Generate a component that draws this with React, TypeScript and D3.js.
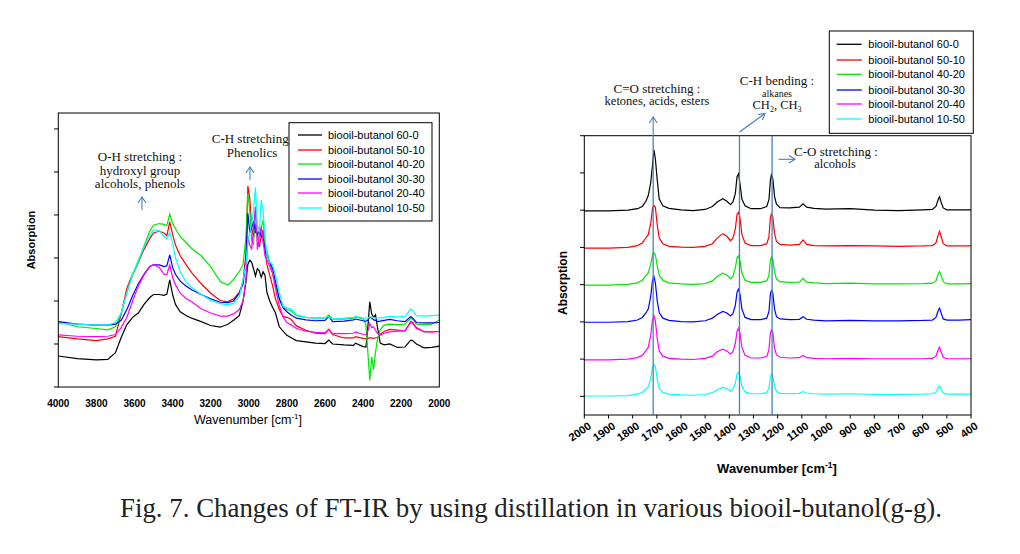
import React from "react";
import * as d3 from "d3";

// ---------- Left panel data (4000-2000 cm-1) ----------
const wnL = [4000, 3900, 3800, 3740, 3700, 3670, 3640, 3610, 3580, 3550, 3520, 3500, 3470, 3445, 3430, 3415, 3400, 3385, 3360, 3330, 3300, 3250, 3200, 3150, 3110, 3080, 3050, 3030, 3015, 3005, 2995, 2985, 2975, 2965, 2955, 2945, 2935, 2925, 2915, 2905, 2890, 2875, 2860, 2840, 2820, 2800, 2780, 2750, 2700, 2650, 2600, 2580, 2560, 2500, 2450, 2440, 2400, 2385, 2375, 2365, 2355, 2345, 2335, 2325, 2310, 2290, 2260, 2220, 2180, 2150, 2140, 2120, 2080, 2040, 2000];

const left60_0 = [0.72, 0.66, 0.63, 0.64, 0.80, 1.15, 1.45, 1.62, 1.72, 1.92, 2.08, 2.15, 2.15, 2.13, 2.16, 2.49, 2.15, 1.92, 1.75, 1.66, 1.60, 1.52, 1.43, 1.39, 1.46, 1.55, 1.66, 2.00, 2.45, 2.85, 2.95, 2.90, 2.75, 2.58, 2.75, 2.70, 2.55, 2.68, 2.60, 2.20, 2.00, 1.85, 1.72, 1.40, 1.30, 1.20, 1.15, 1.08, 1.05, 1.02, 1.01, 1.09, 1.00, 0.98, 0.97, 1.02, 0.94, 0.93, 1.40, 1.98, 1.70, 1.62, 1.68, 1.40, 1.02, 0.98, 1.00, 0.92, 0.93, 1.09, 1.08, 1.00, 0.91, 0.92, 0.95];
const left50_10 = [1.17, 1.12, 1.08, 1.12, 1.18, 1.70, 2.30, 2.62, 2.90, 3.20, 3.45, 3.58, 3.62, 3.58, 3.52, 3.84, 3.55, 3.30, 3.05, 2.85, 2.66, 2.40, 2.18, 2.01, 1.98, 2.05, 2.20, 2.45, 3.10, 4.67, 4.40, 3.70, 3.50, 3.78, 3.55, 3.25, 3.50, 3.65, 3.20, 2.85, 2.60, 2.35, 2.05, 1.80, 1.64, 1.62, 1.58, 1.42, 1.32, 1.25, 1.24, 1.34, 1.22, 1.14, 1.14, 1.17, 1.13, 1.12, 1.13, 1.14, 1.14, 1.13, 1.14, 1.15, 1.22, 1.29, 1.34, 1.32, 1.30, 1.52, 1.50, 1.38, 1.28, 1.28, 1.29];
const left40_20 = [1.52, 1.40, 1.36, 1.33, 1.40, 1.70, 2.20, 2.60, 2.90, 3.28, 3.62, 3.76, 3.80, 3.78, 3.75, 4.02, 3.80, 3.68, 3.50, 3.36, 3.22, 3.05, 2.80, 2.45, 2.37, 2.50, 2.68, 2.85, 3.50, 4.50, 4.10, 3.40, 3.30, 4.04, 3.80, 3.50, 3.70, 3.88, 3.35, 3.15, 2.90, 2.62, 2.35, 2.05, 1.87, 1.80, 1.78, 1.66, 1.62, 1.60, 1.60, 1.67, 1.58, 1.58, 1.60, 1.63, 1.58, 1.45, 0.80, 0.16, 0.70, 0.40, 0.80, 1.10, 1.33, 1.44, 1.46, 1.45, 1.46, 1.60, 1.58, 1.46, 1.45, 1.46, 1.56];
const left30_30 = [1.52, 1.46, 1.44, 1.44, 1.46, 1.55, 1.80, 2.12, 2.40, 2.62, 2.80, 2.84, 2.84, 2.80, 2.82, 3.07, 2.78, 2.62, 2.46, 2.35, 2.26, 2.15, 2.05, 1.97, 1.96, 2.00, 2.18, 2.40, 2.95, 4.04, 3.60, 3.70, 3.85, 3.60, 3.55, 3.65, 3.50, 3.45, 3.20, 3.05, 2.90, 2.75, 2.45, 2.05, 1.84, 1.75, 1.68, 1.60, 1.56, 1.54, 1.55, 1.64, 1.52, 1.53, 1.56, 1.58, 1.54, 1.53, 1.55, 1.64, 1.60, 1.56, 1.55, 1.52, 1.53, 1.55, 1.57, 1.54, 1.52, 1.64, 1.60, 1.50, 1.49, 1.49, 1.50];
const left20_40 = [1.21, 1.18, 1.17, 1.18, 1.22, 1.38, 1.62, 2.00, 2.35, 2.60, 2.80, 2.85, 2.78, 2.62, 2.62, 2.84, 2.55, 2.38, 2.18, 2.06, 1.98, 1.82, 1.72, 1.65, 1.65, 1.70, 1.80, 2.00, 2.50, 3.50, 3.30, 3.20, 3.73, 4.19, 3.19, 3.50, 3.73, 3.38, 3.05, 2.95, 2.80, 2.65, 2.30, 1.90, 1.62, 1.50, 1.45, 1.36, 1.30, 1.27, 1.26, 1.34, 1.24, 1.24, 1.25, 1.28, 1.22, 1.21, 1.30, 1.48, 1.38, 1.40, 1.32, 1.25, 1.21, 1.25, 1.28, 1.30, 1.31, 1.50, 1.48, 1.36, 1.29, 1.28, 1.29];
const left10_50 = [1.48, 1.46, 1.44, 1.44, 1.50, 1.72, 2.18, 2.62, 2.95, 3.26, 3.52, 3.65, 3.63, 3.50, 3.45, 3.59, 3.35, 3.00, 2.68, 2.45, 2.32, 2.15, 2.02, 1.94, 1.91, 1.95, 2.10, 2.50, 2.85, 3.40, 3.60, 3.80, 4.12, 4.64, 3.70, 3.60, 4.35, 4.10, 3.50, 3.05, 2.90, 2.84, 2.60, 2.20, 1.87, 1.84, 1.82, 1.68, 1.62, 1.60, 1.60, 1.64, 1.58, 1.60, 1.62, 1.64, 1.60, 1.60, 1.60, 1.64, 1.62, 1.62, 1.60, 1.61, 1.60, 1.62, 1.64, 1.63, 1.64, 1.81, 1.78, 1.66, 1.65, 1.66, 1.67];

// ---------- Right panel data (2000-400 cm-1) ----------
const wnR = [2000, 1900, 1820, 1780, 1760, 1745, 1735, 1725, 1718, 1712, 1706, 1698, 1690, 1675, 1650, 1600, 1550, 1500, 1470, 1450, 1427, 1410, 1395, 1385, 1375, 1368, 1362, 1356, 1348, 1335, 1310, 1270, 1245, 1236, 1230, 1226, 1220, 1213, 1205, 1190, 1150, 1110, 1095, 1080, 1050, 1000, 900, 800, 700, 600, 560, 545, 535, 530, 524, 515, 500, 450, 400];

const right60_0 = [5.48, 5.48, 5.50, 5.54, 5.60, 5.74, 5.90, 6.25, 6.70, 7.12, 6.88, 6.30, 5.80, 5.62, 5.55, 5.51, 5.49, 5.52, 5.60, 5.72, 5.81, 5.74, 5.65, 5.72, 5.95, 6.40, 6.48, 6.22, 5.80, 5.62, 5.54, 5.54, 5.60, 5.78, 6.30, 6.45, 6.35, 5.88, 5.66, 5.57, 5.56, 5.58, 5.67, 5.58, 5.55, 5.53, 5.54, 5.50, 5.49, 5.51, 5.52, 5.60, 5.80, 5.86, 5.72, 5.56, 5.51, 5.51, 5.51];
const right50_10 = [4.48, 4.48, 4.50, 4.55, 4.62, 4.76, 4.85, 5.15, 5.55, 5.63, 5.58, 5.10, 4.75, 4.60, 4.53, 4.51, 4.50, 4.53, 4.60, 4.75, 4.87, 4.80, 4.68, 4.75, 5.00, 5.40, 5.44, 5.30, 4.85, 4.62, 4.55, 4.55, 4.60, 4.78, 5.30, 5.40, 5.32, 4.88, 4.66, 4.58, 4.56, 4.58, 4.70, 4.58, 4.55, 4.54, 4.55, 4.54, 4.53, 4.54, 4.55, 4.62, 4.85, 4.93, 4.80, 4.60, 4.54, 4.54, 4.54];
const right40_20 = [3.49, 3.49, 3.51, 3.55, 3.62, 3.74, 3.82, 4.05, 4.30, 4.36, 4.30, 4.00, 3.75, 3.62, 3.55, 3.52, 3.51, 3.53, 3.60, 3.72, 3.81, 3.76, 3.66, 3.72, 3.95, 4.22, 4.27, 4.15, 3.82, 3.62, 3.56, 3.56, 3.60, 3.75, 4.15, 4.24, 4.18, 3.85, 3.65, 3.58, 3.56, 3.57, 3.67, 3.57, 3.55, 3.53, 3.54, 3.52, 3.52, 3.53, 3.54, 3.60, 3.80, 3.85, 3.75, 3.58, 3.52, 3.52, 3.53];
const right30_30 = [2.49, 2.49, 2.51, 2.55, 2.62, 2.74, 2.85, 3.20, 3.60, 3.72, 3.55, 3.05, 2.75, 2.60, 2.54, 2.51, 2.50, 2.53, 2.60, 2.70, 2.78, 2.74, 2.66, 2.72, 2.95, 3.30, 3.38, 3.25, 2.85, 2.62, 2.56, 2.56, 2.60, 2.78, 3.25, 3.34, 3.28, 2.85, 2.64, 2.58, 2.56, 2.57, 2.64, 2.57, 2.55, 2.53, 2.54, 2.53, 2.53, 2.54, 2.55, 2.62, 2.82, 2.87, 2.75, 2.58, 2.55, 2.55, 2.56];
const right20_40 = [1.48, 1.48, 1.50, 1.54, 1.60, 1.73, 1.82, 2.15, 2.55, 2.67, 2.52, 2.05, 1.72, 1.58, 1.52, 1.50, 1.49, 1.52, 1.58, 1.70, 1.77, 1.72, 1.64, 1.70, 1.92, 2.25, 2.33, 2.20, 1.82, 1.60, 1.53, 1.53, 1.57, 1.75, 2.20, 2.28, 2.22, 1.80, 1.62, 1.55, 1.53, 1.54, 1.60, 1.54, 1.52, 1.51, 1.52, 1.51, 1.51, 1.51, 1.52, 1.58, 1.77, 1.82, 1.70, 1.55, 1.51, 1.51, 1.51];
const right10_50 = [0.51, 0.51, 0.52, 0.56, 0.61, 0.70, 0.76, 0.98, 1.28, 1.36, 1.30, 0.95, 0.72, 0.61, 0.56, 0.54, 0.53, 0.55, 0.60, 0.68, 0.74, 0.71, 0.64, 0.70, 0.85, 1.10, 1.15, 1.05, 0.78, 0.62, 0.57, 0.57, 0.60, 0.72, 1.02, 1.10, 1.04, 0.76, 0.63, 0.58, 0.57, 0.58, 0.63, 0.59, 0.57, 0.56, 0.57, 0.55, 0.55, 0.56, 0.57, 0.62, 0.74, 0.78, 0.70, 0.59, 0.56, 0.56, 0.56];

const seriesNames = ["biooil-butanol 60-0", "biooil-butanol 50-10", "biooil-butanol 40-20", "biooil-butanol 30-30", "biooil-butanol 20-40", "biooil-butanol 10-50"];
const seriesColors = ["#000000", "#ff0000", "#00e600", "#0000ff", "#ff00ff", "#00ffff"];
const leftSeries = [left60_0, left50_10, left40_20, left30_30, left20_40, left10_50];
const rightSeries = [right60_0, right50_10, right40_20, right30_30, right20_40, right10_50];

const leftXTicks = [4000, 3800, 3600, 3400, 3200, 3000, 2800, 2600, 2400, 2200, 2000];
const leftYTicks = [0, 1, 2, 3, 4, 5, 6];
const rightXTicks = [2000, 1900, 1800, 1700, 1600, 1500, 1400, 1300, 1200, 1100, 1000, 900, 800, 700, 600, 500, 400];
const rightYTicks = [0.5, 1.5, 2.5, 3.5, 4.5, 5.5, 6.5, 7.5];
const markerLines = [1715, 1358, 1223];

const ARIAL = "'Liberation Sans', Arial, sans-serif";
const TIMES = "'Liberation Serif', 'Times New Roman', serif";
const ANNOT = "#4a7ebb";

function Legend({ x, y, w, h, lineX0, lineX1, textX, rowY }: any) {
  return (
    <g>
      <rect x={x} y={y} width={w} height={h} fill="#fff" stroke="#000" strokeWidth={1} />
      {seriesNames.map((n, i) => (
        <g key={n}>
          <line x1={lineX0} x2={lineX1} y1={rowY[i]} y2={rowY[i]} stroke={seriesColors[i]} strokeWidth={1.3} />
          <text x={textX} y={rowY[i]} dy="0.35em" fontFamily={ARIAL} fontSize={11} fill="#000">{n}</text>
        </g>
      ))}
    </g>
  );
}

function UpArrow({ x, y1, y2 }: any) {
  return (
    <g stroke={ANNOT} strokeWidth={1.1} fill="none">
      <line x1={x} x2={x} y1={y1} y2={y2} />
      <polyline points={`${x - 4},${y2 + 6} ${x},${y2} ${x + 4},${y2 + 6}`} />
    </g>
  );
}

export default function App() {
  // Left panel scales
  const xL = d3.scaleLinear().domain([4000, 2000]).range([58.3, 439.3]);
  const yL = d3.scaleLinear().domain([0, 6.37]).range([387, 113]);
  const lineL = d3.line<number>().x((_, i) => xL(wnL[i])).y((d) => yL(d));

  // Right panel scales
  const xR = d3.scaleLinear().domain([2000, 400]).range([584.3, 971]);
  const yR = d3.scaleLinear().domain([0, 7.5]).range([415, 135.7]);
  const lineR = d3.line<number>().x((_, i) => xR(wnR[i])).y((d) => yR(d));

  return (
    <svg width={1020} height={554} style={{ position: "absolute", left: 0, top: 0, background: "#fff" }}>
      <rect x={0} y={0} width={1020} height={554} fill="#fff" />

      {/* ---------------- LEFT PANEL ---------------- */}
      <g>
        {leftSeries.map((s, i) => (
          <path key={i} d={lineL(s) || ""} fill="none" stroke={seriesColors[i]} strokeWidth={1.2} />
        ))}
        <rect x={58.3} y={113} width={381} height={274} fill="none" stroke="#000" strokeWidth={1} />
        {leftYTicks.map((t) => (
          <line key={t} x1={54} x2={58.3} y1={yL(t)} y2={yL(t)} stroke="#000" />
        ))}
        {leftXTicks.map((t) => (
          <text key={t} x={xL(t)} y={407} textAnchor="middle" fontFamily={ARIAL} fontSize={10} fontWeight="bold" fill="#000">{t}</text>
        ))}
        <text x={248} y={424} textAnchor="middle" fontFamily={ARIAL} fontSize={12.5} fill="#000">
          Wavenumber [cm<tspan fontSize={8} dy={-5}>-1</tspan><tspan dy={5}>]</tspan>
        </text>
        <text transform="translate(35,240) rotate(-90)" textAnchor="middle" fontFamily={ARIAL} fontSize={11} fontWeight="bold" fill="#000">Absorption</text>

        <g fontFamily={TIMES} fontSize={13} fill="#111" textAnchor="middle">
          <text x={140} y={161}>O-H stretching :</text>
          <text x={140} y={175}>hydroxyl group</text>
          <text x={140} y={188}>alcohols, phenols</text>
          <text x={252} y={143}>C-H stretching:</text>
          <text x={252} y={157}>Phenolics</text>
        </g>
        <UpArrow x={142} y1={210} y2={197} />
        <UpArrow x={250} y1={180} y2={167} />

        <Legend x={289} y={122.7} w={143} h={98.3} lineX0={298} lineX1={322} textX={328}
          rowY={[135, 150, 164, 179, 193, 208]} />
      </g>

      {/* ---------------- RIGHT PANEL ---------------- */}
      <g>
        {rightSeries.map((s, i) => (
          <path key={i} d={lineR(s) || ""} fill="none" stroke={seriesColors[i]} strokeWidth={1.2} />
        ))}
        <rect x={584.3} y={135.7} width={386.7} height={279.3} fill="none" stroke="#000" strokeWidth={1} />
        {rightYTicks.map((t) => (
          <line key={t} x1={580} x2={584.3} y1={yR(t)} y2={yR(t)} stroke="#000" />
        ))}
        {rightXTicks.map((t) => (
          <line key={t} x1={xR(t)} x2={xR(t)} y1={415} y2={418.5} stroke="#000" />
        ))}
        {rightXTicks.map((t) => (
          <text key={t} transform={`translate(${xR(t) + 3},${421}) rotate(-35)`} textAnchor="end" dy="0.75em"
            fontFamily={ARIAL} fontSize={11} fontWeight="bold" fill="#000">{t}</text>
        ))}
        <text x={777} y={473} textAnchor="middle" fontFamily={ARIAL} fontSize={13} fontWeight="bold" fill="#000">
          Wavenumber [cm<tspan fontSize={8.5} dy={-5}>-1</tspan><tspan dy={5}>]</tspan>
        </text>
        <text transform="translate(567,283) rotate(-90)" textAnchor="middle" fontFamily={ARIAL} fontSize={12} fontWeight="bold" fill="#000">Absorption</text>

        {/* marker lines */}
        {markerLines.map((w) => (
          <line key={w} x1={xR(w)} x2={xR(w)} y1={135.7} y2={415} stroke={ANNOT} strokeWidth={1.3} />
        ))}
        <UpArrow x={xR(markerLines[0])} y1={136} y2={117} />
        <g stroke={ANNOT} strokeWidth={1.1} fill="none">
          <line x1={xR(markerLines[1])} y1={132} x2={765} y2={113.5} />
          <polyline points="758,114.5 765,113.5 762.5,120" />
          <line x1={778.5} y1={159.3} x2={795} y2={159.3} />
          <polyline points="789,155.5 795,159.3 789,163" />
        </g>
        <g fontFamily={TIMES} fill="#111" textAnchor="middle">
          <text x={657} y={93} fontSize={13}>C=O stretching :</text>
          <text x={657} y={105} fontSize={12.5}>ketones, acids, esters</text>
          <text x={777} y={85} fontSize={13}>C-H bending :</text>
          <text x={777} y={97} fontSize={10}>alkanes</text>
          <text x={777} y={109} fontSize={12.5}>
            CH<tspan fontSize={8} dy={2.5}>2</tspan><tspan dy={-2.5}>, CH</tspan><tspan fontSize={8} dy={2.5}>3</tspan>
          </text>
          <text x={836} y={156} fontSize={13}>C-O stretching :</text>
          <text x={835} y={168} fontSize={12.5}>alcohols</text>
        </g>

        <Legend x={829.3} y={31} w={144} h={102.3} lineX0={836.7} lineX1={861.7} textX={868.3}
          rowY={[44.3, 60, 74.3, 90, 104, 119]} />
      </g>

      {/* caption */}
      <text x={120} y={517} fontFamily={TIMES} fontSize={27} fill="#222" textLength={822} lengthAdjust="spacingAndGlyphs">
        Fig. 7. Changes of FT-IR by using distillation in various biooil-butanol(g-g).
      </text>
    </svg>
  );
}
